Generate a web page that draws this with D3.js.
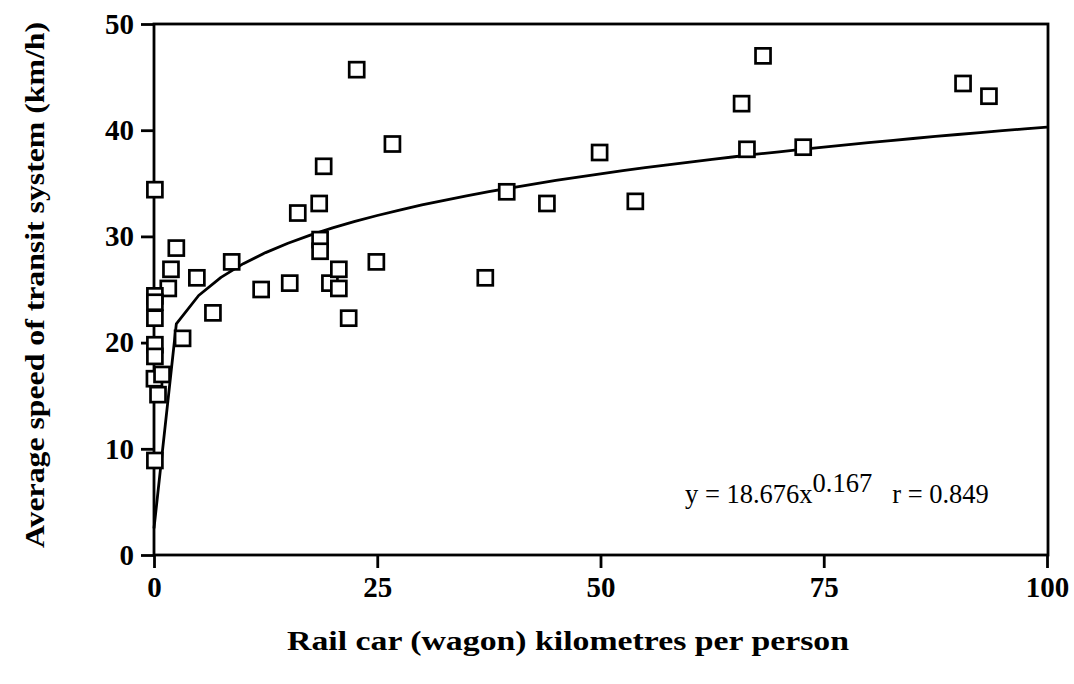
<!DOCTYPE html>
<html>
<head>
<meta charset="utf-8">
<script src="https://cdn.jsdelivr.net/npm/d3@7"></script>
<style>
  html, body { margin: 0; padding: 0; background: #fff; }
  svg { display: block; }
</style>
</head>
<body>
<svg id="chart" width="1074" height="684"></svg>
<script>
// Rail car kilometres per person vs. average transit speed, one entry per city
const railCarKm = [
  0.1, 22.7, 26.7, 19.0, 18.5, 16.1, 18.6, 18.6, 2.5, 1.9,
  1.6, 4.8, 8.7, 12.0, 15.2, 19.7, 20.7, 20.7, 24.9, 6.6,
  3.2, 21.8, 39.5, 44.0, 49.9, 53.9, 37.1, 65.8, 68.2, 66.4,
  72.7, 90.6, 93.5, 0.1, 0.1, 0.1, 0.1, 0.1, 0.05, 0.9,
  0.45, 0.1
];
const transitSpeed = [
  34.4, 45.7, 38.7, 36.6, 33.1, 32.2, 29.7, 28.6, 28.9, 26.9,
  25.1, 26.1, 27.6, 25.0, 25.6, 25.6, 26.9, 25.1, 27.6, 22.8,
  20.4, 22.3, 34.2, 33.1, 37.9, 33.3, 26.1, 42.5, 47.0, 38.2,
  38.4, 44.4, 43.2, 24.4, 23.8, 22.3, 19.8, 18.7, 16.6, 17.0,
  15.1, 8.9
];

// Axis ticks
const xTicks = [0, 25, 50, 75, 100];
const yTicks = [0, 10, 20, 30, 40, 50];

// Power-law fit y = a * x^b
const fitA = 18.676;
const fitB = 0.167;
const fitR = 0.849;
const fitStart = 0.000006;
const fitStep = 2.5;

const xLabel = "Rail car (wagon) kilometres per person";
const yLabel = "Average speed of transit system (km/h)";

const svg = d3.select("#chart");
const serif = "'Liberation Serif', 'Times New Roman', serif";

const plotL = 154, plotR = 1047, plotT = 24, plotB = 555;
const x = d3.scaleLinear().domain([0, 100]).range([plotL, plotR]);
const y = d3.scaleLinear().domain([0, 50]).range([plotB, plotT]);

// Axes
const xAxis = svg.append("g")
  .attr("transform", `translate(0,${plotB})`)
  .call(d3.axisBottom(x).tickValues(xTicks).tickSize(13).tickPadding(8).tickSizeOuter(0));
const yAxis = svg.append("g")
  .attr("transform", `translate(${plotL},0)`)
  .call(d3.axisLeft(y).tickValues(yTicks).tickSize(13).tickPadding(7).tickSizeOuter(0));

[xAxis, yAxis].forEach(g => {
  g.select(".domain").remove();
  g.selectAll(".tick line").attr("stroke", "#000").attr("stroke-width", 2.8);
  g.selectAll(".tick text")
    .attr("fill", "#000")
    .style("font-family", serif)
    .style("font-weight", "bold")
    .style("font-size", "29px");
});

// Plot frame
svg.append("rect")
  .attr("x", plotL).attr("y", plotT)
  .attr("width", plotR - plotL + 1).attr("height", plotB - plotT)
  .attr("fill", "none").attr("stroke", "#000").attr("stroke-width", 2.8);

// Fitted curve, sampled along x
const fitX = [fitStart].concat(d3.range(fitStep, 100 + fitStep / 2, fitStep));
const fitPts = fitX.map(v => [v, fitA * Math.pow(v, fitB)]);
svg.append("path")
  .datum(fitPts)
  .attr("fill", "none")
  .attr("stroke", "#000")
  .attr("stroke-width", 2.8)
  .attr("stroke-linejoin", "round")
  .attr("d", d3.line().x(d => x(d[0])).y(d => y(d[1])));

// City markers: open squares
const side = 15;
const pts = railCarKm.map((v, i) => ({ xv: v, yv: transitSpeed[i] }));
svg.append("g").selectAll("rect")
  .data(pts)
  .join("rect")
  .attr("x", d => x(d.xv) - side / 2)
  .attr("y", d => y(d.yv) - side / 2)
  .attr("width", side).attr("height", side)
  .attr("fill", "#fff")
  .attr("stroke", "#000")
  .attr("stroke-width", 2.7);

// Equation label
const eq = svg.append("text")
  .attr("x", 685).attr("y", 503)
  .style("font-family", serif)
  .style("font-size", "26.5px")
  .attr("fill", "#000");
eq.append("tspan").text(`y = ${fitA}x`);
eq.append("tspan").attr("dy", -11).text(fitB);
eq.append("tspan").attr("dy", 11).attr("dx", 20).text(`r = ${fitR}`);

// Axis titles
svg.append("text")
  .attr("x", 568).attr("y", 650)
  .attr("text-anchor", "middle")
  .attr("textLength", 562).attr("lengthAdjust", "spacingAndGlyphs")
  .style("font-family", serif)
  .style("font-weight", "bold")
  .style("font-size", "28px")
  .text(xLabel);

svg.append("text")
  .attr("transform", "translate(44,285) rotate(-90)")
  .attr("text-anchor", "middle")
  .attr("textLength", 526).attr("lengthAdjust", "spacingAndGlyphs")
  .style("font-family", serif)
  .style("font-weight", "bold")
  .style("font-size", "28px")
  .text(yLabel);
</script>
</body>
</html>
